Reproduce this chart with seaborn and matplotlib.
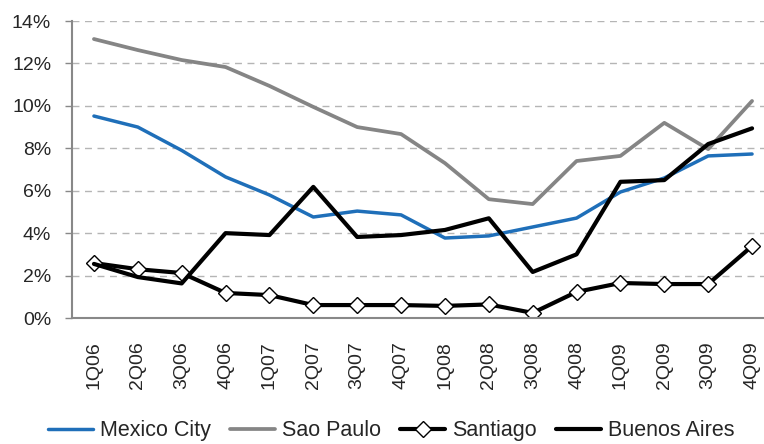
import numpy as np
import pandas as pd
import matplotlib
matplotlib.use("Agg")
import matplotlib.pyplot as plt
import seaborn as sns
from matplotlib.ticker import FixedLocator

quarters = ["1Q06", "2Q06", "3Q06", "4Q06", "1Q07", "2Q07", "3Q07", "4Q07",
            "1Q08", "2Q08", "3Q08", "4Q08", "1Q09", "2Q09", "3Q09", "4Q09"]
mexico_city = [9.52, 9.0, 7.9, 6.65, 5.8, 4.76, 5.04, 4.86, 3.77, 3.87, 4.29, 4.71, 5.94, 6.6, 7.64, 7.73]
sao_paulo = [13.15, 12.63, 12.16, 11.83, 10.94, 9.95, 9.0, 8.67, 7.3, 5.6, 5.37, 7.4, 7.64, 9.2, 7.96, 10.23]
santiago = [2.59, 2.3, 2.12, 1.18, 1.08, 0.61, 0.61, 0.61, 0.57, 0.64, 0.24, 1.23, 1.65, 1.6, 1.6, 3.39]
buenos_aires = [2.55, 1.93, 1.63, 4.0, 3.91, 6.18, 3.82, 3.91, 4.15, 4.7, 2.17, 3.0, 6.42, 6.5, 8.2, 8.94]

sns.set_style("white")
plt.rcParams["font.family"] = ["Liberation Sans", "DejaVu Sans"]

fig = plt.figure(figsize=(7.64, 4.44), dpi=100)
ax = fig.add_axes([72 / 764, 126 / 444, 702 / 764, 297 / 444])

x = np.arange(len(quarters))
sns.lineplot(x=x, y=mexico_city, ax=ax, color="#1f6fb9", linewidth=2.5, label="Mexico City")
sns.lineplot(x=x, y=sao_paulo, ax=ax, color="#858585", linewidth=2.7, label="Sao Paulo")
sns.lineplot(x=x, y=santiago, ax=ax, color="black", linewidth=3, marker="D",
             markersize=8, markerfacecolor="white", markeredgecolor="black",
             markeredgewidth=1, label="Santiago")
sns.lineplot(x=x, y=buenos_aires, ax=ax, color="black", linewidth=3, label="Buenos Aires")

ax.set_xlim(-0.5, len(quarters) - 0.5)
ax.set_ylim(0, 14)
ax.set_yticks(np.arange(0, 15, 2))
ax.set_yticklabels([f"{v}%" for v in range(0, 15, 2)], fontsize=14)
ax.set_xticks(x)
ax.set_xticklabels(quarters, rotation=90, fontsize=14)
ax.xaxis.set_minor_locator(FixedLocator(np.arange(-0.5, len(quarters), 1)))
ax.tick_params(axis="x", which="major", length=0, pad=17)
ax.tick_params(axis="x", which="minor", length=5, color="#888888", width=1)
ax.tick_params(axis="y", length=5, color="#888888", width=1, left=True, pad=10)

ax.grid(axis="y", linestyle=(0, (5, 4)), color="#b5b5b5", linewidth=1)
ax.set_axisbelow(True)
for s in ["top", "right"]:
    ax.spines[s].set_visible(False)
for s in ["left", "bottom"]:
    ax.spines[s].set_color("#888888")
    ax.spines[s].set_linewidth(1.5)

ax.get_legend().remove()
handles, labels = ax.get_legend_handles_labels()
fig.legend(handles, labels, loc="center", ncol=4, frameon=False,
           bbox_to_anchor=(0.512, 0.03), fontsize=15.5, handlelength=2.1,
           columnspacing=0.9, handletextpad=0.3, borderpad=0.2)

fig.savefig("out.png", dpi=100)
